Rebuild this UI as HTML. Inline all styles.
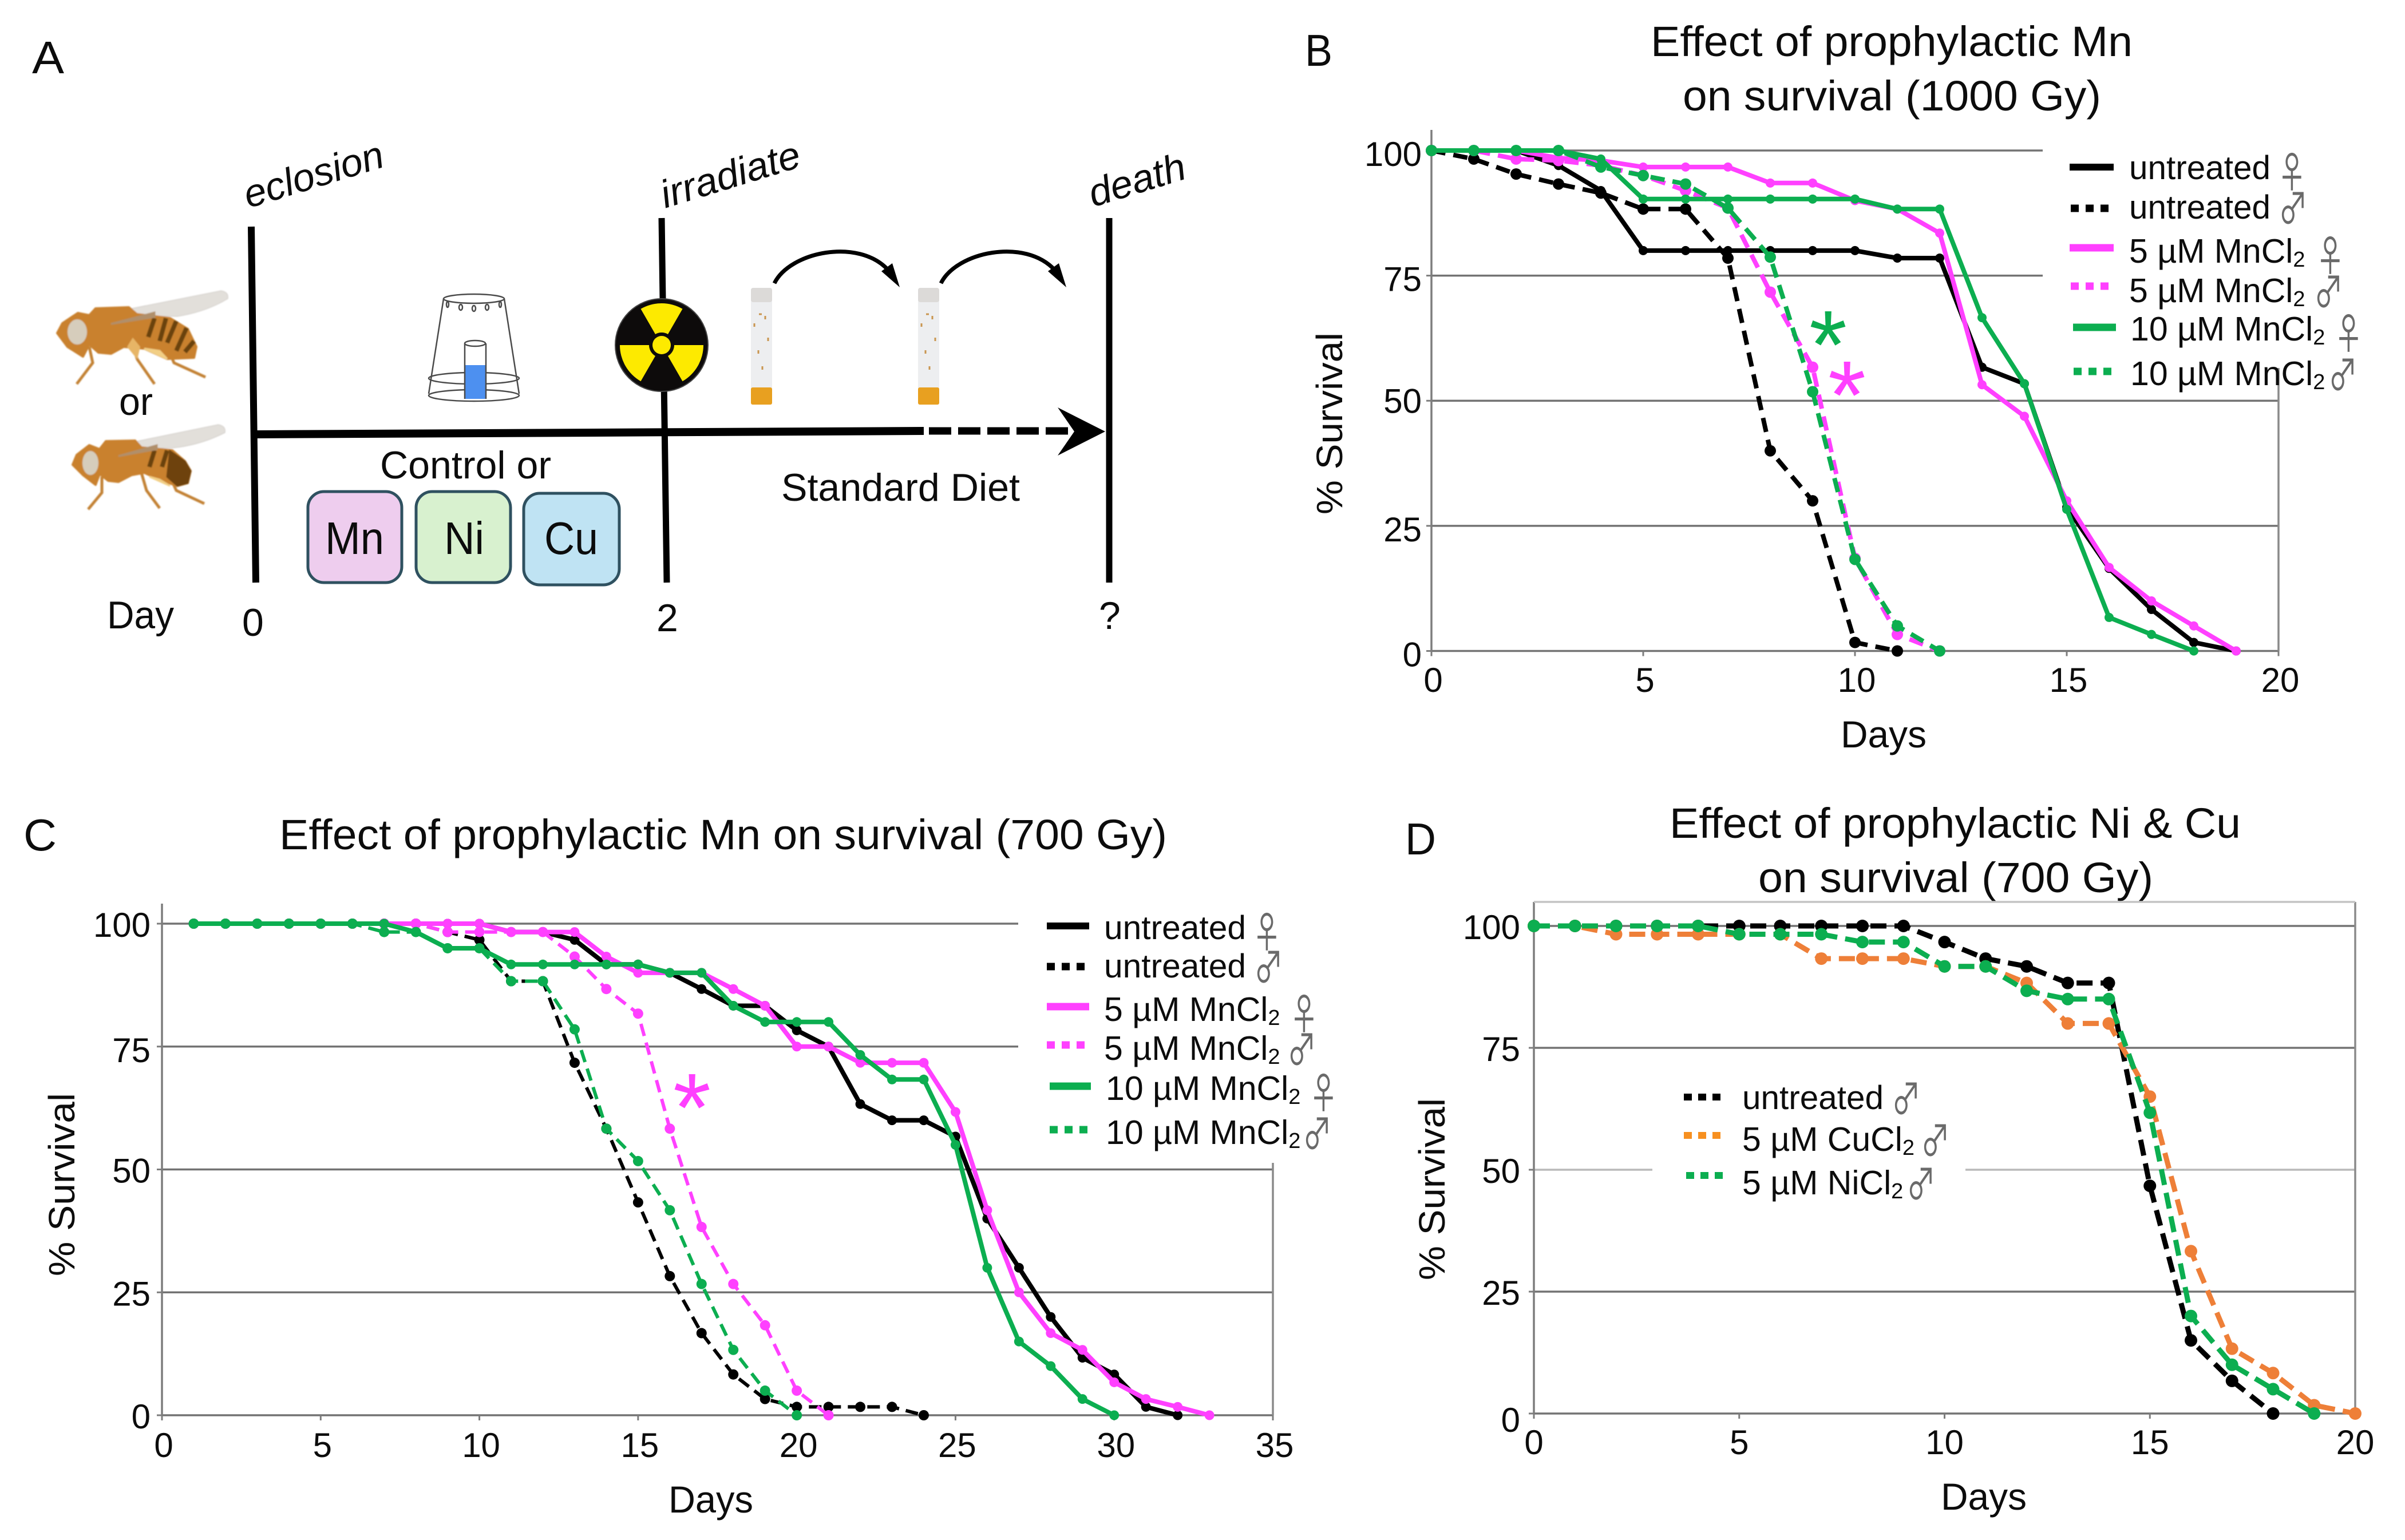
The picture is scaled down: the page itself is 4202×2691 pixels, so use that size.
<!DOCTYPE html>
<html lang="en">
<head>
<meta charset="utf-8">
<title>Prophylactic manganese survival figure</title>
<style>
html,body{margin:0;padding:0;background:#fff;width:4202px;height:2691px;overflow:hidden}
svg{display:block}
text{font-family:"Liberation Sans",Arial,sans-serif;fill:#0c0c0c}
.sym{font-family:"Noto Sans CJK JP","DejaVu Sans",sans-serif;fill:#6a6a6a}
</style>
</head>
<body>
<svg id="figure" xmlns="http://www.w3.org/2000/svg" width="4202" height="2691" viewBox="0 0 4202 2691">
<rect x="0" y="0" width="4202" height="2691" fill="#fff"/>

<defs>
  <filter id="soft" x="-5%" y="-5%" width="110%" height="110%"><feGaussianBlur stdDeviation="1"/></filter>
</defs>

<!-- PANEL A -->
<g id="panel-a">
  <text x="56" y="128" font-size="80" textLength="56" lengthAdjust="spacingAndGlyphs">A</text>

  <g filter="url(#soft)">
    <path d="M225,540 L386,508 Q400,510 398,522 Q360,545 310,553 L240,552 Z" fill="#e2dfda" stroke="#cfcbc6" stroke-width="1"/>
    <path d="M156,606 L162,634 L134,671 M232,606 L240,628 L270,671 M288,596 L304,634 L359,659" fill="none" stroke="#c38236" stroke-width="5"/>
    <path d="M109,565 L136,547 L156,551 L167,539 L225,537 L239,549 L297,556 L328,575 L343,606 L339,625 L292,627 L252,609 L216,606 L194,618 L172,616 L156,602 L145,623 L118,606 L100,582 Z" fill="#c9812f" stroke="#c9812f" stroke-width="4" stroke-linejoin="round"/>
    <path d="M252,609 L292,627 L279,613 Z" fill="#f2cf85" stroke="#f2cf85" stroke-width="3"/>
    <path d="M270,556 L259,589 M290,556 L279,596 M308,561 L292,599 M326,573 L308,613 M339,596 L323,615" stroke="#6b430f" stroke-width="8" fill="none"/>
    <path d="M194,566 L270,546 L270,554 Z" fill="#b08f6a" stroke="#b08f6a" stroke-width="3"/>
    <path d="M222,606 L232,590 L245,606 L240,628 Z" fill="#e7b566"/>
    <ellipse cx="135" cy="580" rx="17" ry="22" fill="#d6cdbc"/>
  </g>

  <text x="208" y="725" font-size="68" textLength="59" lengthAdjust="spacingAndGlyphs">or</text>

  <g filter="url(#soft)">
    <path d="M239,771 L381,742 Q395,744 393,756 Q350,778 301,783 L250,783 Z" fill="#e2dfda" stroke="#cfcbc6" stroke-width="1"/>
    <path d="M178,833 L178,861 L154,890 M247,826 L256,857 L279,888 M294,826 L308,857 L357,880" fill="none" stroke="#c38236" stroke-width="5"/>
    <path d="M134,795 L156,778 L174,785 L185,771 L236,770 L247,782 L301,787 L323,806 L333,823 L328,844 L310,849 L283,840 L252,826 L230,830 L207,842 L189,840 L174,828 L167,847 L145,830 L127,812 Z" fill="#c9812f" stroke="#c9812f" stroke-width="4" stroke-linejoin="round"/>
    <path d="M297,788 L323,806 L333,823 L328,844 L310,849 L292,833 Z" fill="#6e4210" stroke="#6e4210" stroke-width="3"/>
    <path d="M261,833 L297,849 L279,838 Z" fill="#f2cf85" stroke="#f2cf85" stroke-width="3"/>
    <path d="M270,787 L261,816 M292,787 L283,816" stroke="#6b430f" stroke-width="8" fill="none"/>
    <path d="M207,797 L274,778 L274,785 Z" fill="#b08f6a" stroke="#b08f6a" stroke-width="3"/>
    <ellipse cx="158" cy="809" rx="14" ry="21" fill="#d6cdbc"/>
  </g>

  <line x1="439" y1="396" x2="447" y2="1018" stroke="#000" stroke-width="12"/>
  <line x1="1156" y1="381" x2="1165" y2="1018" stroke="#000" stroke-width="11"/>
  <line x1="1938" y1="381" x2="1938" y2="1018" stroke="#000" stroke-width="11"/>
  <line x1="446" y1="759" x2="1614" y2="753" stroke="#000" stroke-width="14"/>
  <line x1="1623" y1="753" x2="1880" y2="753" stroke="#000" stroke-width="13" stroke-dasharray="39 12"/>
  <path d="M1848,712 L1931,754 L1848,796 L1877,754 Z" fill="#000"/>

  <text transform="translate(434 364) rotate(-17)" font-size="68" textLength="252" lengthAdjust="spacingAndGlyphs" font-style="italic">eclosion</text>
  <text transform="translate(1162 364) rotate(-17)" font-size="68" textLength="252" lengthAdjust="spacingAndGlyphs" font-style="italic">irradiate</text>
  <text transform="translate(1910 362) rotate(-17)" font-size="68" textLength="174" lengthAdjust="spacingAndGlyphs" font-style="italic">death</text>

  <g fill="none" stroke="#4a4a4a" stroke-width="2.5">
    <path d="M775,522 L749,688 M881,522 L907,688"/>
    <ellipse cx="828" cy="522" rx="53" ry="8" fill="#fff"/>
    <ellipse cx="828" cy="661" rx="79" ry="10"/>
    <ellipse cx="828" cy="691" rx="79" ry="10"/>
    <ellipse cx="782" cy="532" rx="2" ry="5"/><ellipse cx="805" cy="537" rx="3" ry="5"/><ellipse cx="828" cy="539" rx="3" ry="5"/><ellipse cx="851" cy="537" rx="3" ry="5"/><ellipse cx="874" cy="532" rx="2" ry="5"/>
    <rect x="812" y="638" width="37" height="59" fill="#4d90f0" stroke="none"/>
    <path d="M812,600 L812,697 M849,600 L849,697"/>
    <ellipse cx="830" cy="600" rx="18" ry="5" fill="#fff"/>
  </g>

  <g>
    <circle cx="1156" cy="603" r="81" fill="#0d0b0b" stroke="#444" stroke-width="2"/>
    <path d="M1145,584 L1119.5,539.8 A73,73 0 0 1 1192.5,539.8 L1167,584 A22,22 0 0 0 1145,584 Z" fill="#fdea00"/>
    <path d="M1178,603 L1229,603 A73,73 0 0 1 1192.5,666.2 L1167,622 A22,22 0 0 0 1178,603 Z" fill="#fdea00"/>
    <path d="M1134,603 L1083,603 A73,73 0 0 0 1119.5,666.2 L1145,622 A22,22 0 0 1 1134,603 Z" fill="#fdea00"/>
    <circle cx="1156" cy="603" r="16" fill="#fdea00"/>
  </g>

  <g>
    <rect x="1312" y="503" width="37" height="204" rx="4" fill="#edeef0"/>
    <rect x="1312" y="503" width="37" height="25" rx="4" fill="#dcdad8"/>
    <rect x="1312" y="677" width="37" height="30" rx="3" fill="#e8a020"/>
    <path d="M1326,549 h5 M1337,552 v6 M1318,565 v6 M1342,590 v6 M1325,612 v6 M1332,640 v6" stroke="#c9954f" stroke-width="3"/>
  </g>
  <g>
    <rect x="1604" y="503" width="37" height="204" rx="4" fill="#edeef0"/>
    <rect x="1604" y="503" width="37" height="25" rx="4" fill="#dcdad8"/>
    <rect x="1604" y="677" width="37" height="30" rx="3" fill="#e8a020"/>
    <path d="M1618,549 h5 M1629,552 v6 M1610,565 v6 M1634,590 v6 M1617,612 v6 M1624,640 v6" stroke="#c9954f" stroke-width="3"/>
  </g>

  <g>
    <path d="M1353,495 C1380,440 1500,415 1552,472" fill="none" stroke="#000" stroke-width="7"/>
    <path d="M1540,474 L1559,460 L1572,502 Z" fill="#000"/>
  </g>
  <g>
    <path d="M1644,495 C1671,440 1791,415 1843,472" fill="none" stroke="#000" stroke-width="7"/>
    <path d="M1831,474 L1850,460 L1863,502 Z" fill="#000"/>
  </g>

  <text x="664" y="836" font-size="68" textLength="299" lengthAdjust="spacingAndGlyphs">Control or</text>
  <text x="1365" y="875" font-size="68" textLength="417" lengthAdjust="spacingAndGlyphs">Standard Diet</text>

  <g>
    <rect x="538" y="859" width="164" height="159" rx="28" fill="#eecdee" stroke="#2f5160" stroke-width="5"/>
    <text x="568" y="968" font-size="80" textLength="103" lengthAdjust="spacingAndGlyphs">Mn</text>
  </g>
  <g>
    <rect x="727" y="859" width="165" height="159" rx="28" fill="#d8f1cf" stroke="#2f5160" stroke-width="5"/>
    <text x="776" y="968" font-size="80" textLength="70" lengthAdjust="spacingAndGlyphs">Ni</text>
  </g>
  <g>
    <rect x="915" y="862" width="167" height="160" rx="28" fill="#bfe3f3" stroke="#2f5160" stroke-width="5"/>
    <text x="951" y="968" font-size="80" textLength="94" lengthAdjust="spacingAndGlyphs">Cu</text>
  </g>

  <text x="187" y="1098" font-size="68" textLength="117" lengthAdjust="spacingAndGlyphs">Day</text>
  <text x="423" y="1111" font-size="68">0</text>
  <text x="1147" y="1103" font-size="68">2</text>
  <text x="1920" y="1099" font-size="68">?</text>
</g>

<!-- PANEL B static text -->
<g>
  <text x="2280" y="115" font-size="78" textLength="48" lengthAdjust="spacingAndGlyphs">B</text>
  <text x="2884" y="98" font-size="74" textLength="842" lengthAdjust="spacingAndGlyphs">Effect of prophylactic Mn</text>
  <text x="2940" y="193" font-size="74" textLength="731" lengthAdjust="spacingAndGlyphs">on survival (1000 Gy)</text>
  <text transform="translate(2345 899) rotate(-90)" font-size="64" textLength="318" lengthAdjust="spacingAndGlyphs">% Survival</text>
  <text x="3216" y="1306" font-size="66" textLength="150" lengthAdjust="spacingAndGlyphs">Days</text>
</g>

<!-- PANEL C static text -->
<g>
  <text x="41" y="1486" font-size="78" textLength="58" lengthAdjust="spacingAndGlyphs">C</text>
  <text x="488" y="1484" font-size="74" textLength="1551" lengthAdjust="spacingAndGlyphs">Effect of prophylactic Mn on survival (700 Gy)</text>
  <text transform="translate(130 2230) rotate(-90)" font-size="64" textLength="320" lengthAdjust="spacingAndGlyphs">% Survival</text>
  <text x="1168" y="2643" font-size="66" textLength="148" lengthAdjust="spacingAndGlyphs">Days</text>
</g>

<!-- PANEL D static text -->
<g>
  <text x="2455" y="1493" font-size="78" textLength="54" lengthAdjust="spacingAndGlyphs">D</text>
  <text x="2917" y="1464" font-size="74" textLength="998" lengthAdjust="spacingAndGlyphs">Effect of prophylactic Ni &amp; Cu</text>
  <text x="3072" y="1559" font-size="74" textLength="690" lengthAdjust="spacingAndGlyphs">on survival (700 Gy)</text>
  <text transform="translate(2524 2237) rotate(-90)" font-size="64" textLength="318" lengthAdjust="spacingAndGlyphs">% Survival</text>
  <text x="3391" y="2638" font-size="66" textLength="150" lengthAdjust="spacingAndGlyphs">Days</text>
</g>

<g id="charts"></g>

<!-- Significance asterisks -->
<text x="3194" y="661" font-size="170" text-anchor="middle" style="fill:#0cae50">*</text>
<text x="3227" y="749" font-size="170" text-anchor="middle" style="fill:#ff40ff">*</text>
<text x="1209" y="1994" font-size="170" text-anchor="middle" style="fill:#ff40ff">*</text>

<!-- LEGEND B -->
<g>
  <g>
    <line x1="3616" y1="292" x2="3693" y2="292" stroke="#000" stroke-width="12"/>
    <text x="3720" y="313" font-size="58" textLength="247" lengthAdjust="spacingAndGlyphs">untreated</text>
    <text class="sym" transform="translate(3979 328) scale(.82 1.2)" font-size="62">♀</text>
  </g>
  <g>
    <line x1="3618" y1="364" x2="3686" y2="364" stroke="#000" stroke-width="13" stroke-dasharray="14 12"/>
    <text x="3720" y="382" font-size="58" textLength="247" lengthAdjust="spacingAndGlyphs">untreated</text>
    <text class="sym" transform="translate(3981 391) scale(.82 1.2)" font-size="62">♂</text>
  </g>
  <g>
    <line x1="3616" y1="433" x2="3693" y2="433" stroke="#ff40ff" stroke-width="13"/>
    <text x="3720" y="459" font-size="59">5 µM MnCl<tspan font-size="38" dy="7">2</tspan></text>
    <text class="sym" transform="translate(4046 474) scale(.82 1.2)" font-size="62">♀</text>
  </g>
  <g>
    <line x1="3618" y1="500" x2="3686" y2="500" stroke="#ff40ff" stroke-width="13" stroke-dasharray="14 12"/>
    <text x="3720" y="528" font-size="59">5 µM MnCl<tspan font-size="38" dy="7">2</tspan></text>
    <text class="sym" transform="translate(4043 537) scale(.82 1.2)" font-size="62">♂</text>
  </g>
  <g>
    <line x1="3622" y1="572" x2="3697" y2="572" stroke="#0cae50" stroke-width="13"/>
    <text x="3722" y="595" font-size="59">10 µM MnCl<tspan font-size="38" dy="7">2</tspan></text>
    <text class="sym" transform="translate(4078 610) scale(.82 1.2)" font-size="62">♀</text>
  </g>
  <g>
    <line x1="3623" y1="649" x2="3690" y2="649" stroke="#0cae50" stroke-width="13" stroke-dasharray="14 12"/>
    <text x="3722" y="673" font-size="59">10 µM MnCl<tspan font-size="38" dy="7">2</tspan></text>
    <text class="sym" transform="translate(4068 682) scale(.82 1.2)" font-size="62">♂</text>
  </g>
</g>

<!-- LEGEND C -->
<g>
  <g>
    <line x1="1829" y1="1618" x2="1903" y2="1618" stroke="#000" stroke-width="12"/>
    <text x="1929" y="1641" font-size="58" textLength="248" lengthAdjust="spacingAndGlyphs">untreated</text>
    <text class="sym" transform="translate(2188 1656) scale(.82 1.2)" font-size="62">♀</text>
  </g>
  <g>
    <line x1="1829" y1="1689" x2="1897" y2="1689" stroke="#000" stroke-width="13" stroke-dasharray="14 12"/>
    <text x="1929" y="1708" font-size="58" textLength="248" lengthAdjust="spacingAndGlyphs">untreated</text>
    <text class="sym" transform="translate(2191 1717) scale(.82 1.2)" font-size="62">♂</text>
  </g>
  <g>
    <line x1="1829" y1="1759" x2="1903" y2="1759" stroke="#ff40ff" stroke-width="13"/>
    <text x="1929" y="1784" font-size="59">5 µM MnCl<tspan font-size="38" dy="7">2</tspan></text>
    <text class="sym" transform="translate(2253 1799) scale(.82 1.2)" font-size="62">♀</text>
  </g>
  <g>
    <line x1="1829" y1="1826" x2="1897" y2="1826" stroke="#ff40ff" stroke-width="13" stroke-dasharray="14 12"/>
    <text x="1929" y="1852" font-size="59">5 µM MnCl<tspan font-size="38" dy="7">2</tspan></text>
    <text class="sym" transform="translate(2249 1861) scale(.82 1.2)" font-size="62">♂</text>
  </g>
  <g>
    <line x1="1834" y1="1898" x2="1906" y2="1898" stroke="#0cae50" stroke-width="13"/>
    <text x="1932" y="1922" font-size="59">10 µM MnCl<tspan font-size="38" dy="7">2</tspan></text>
    <text class="sym" transform="translate(2287 1937) scale(.82 1.2)" font-size="62">♀</text>
  </g>
  <g>
    <line x1="1834" y1="1974" x2="1902" y2="1974" stroke="#0cae50" stroke-width="13" stroke-dasharray="14 12"/>
    <text x="1932" y="1999" font-size="59">10 µM MnCl<tspan font-size="38" dy="7">2</tspan></text>
    <text class="sym" transform="translate(2276 2008) scale(.82 1.2)" font-size="62">♂</text>
  </g>
</g>

<!-- LEGEND D -->
<g>
  <g>
    <line x1="2942" y1="1917" x2="3007" y2="1917" stroke="#000" stroke-width="12" stroke-dasharray="14 11"/>
    <text x="3044" y="1938" font-size="58" textLength="247" lengthAdjust="spacingAndGlyphs">untreated</text>
    <text class="sym" transform="translate(3305 1947) scale(.82 1.2)" font-size="62">♂</text>
  </g>
  <g>
    <line x1="2942" y1="1984" x2="3007" y2="1984" stroke="#f79020" stroke-width="12" stroke-dasharray="14 11"/>
    <text x="3044" y="2011" font-size="59">5 µM CuCl<tspan font-size="38" dy="7">2</tspan></text>
    <text class="sym" transform="translate(3356 2020) scale(.82 1.2)" font-size="62">♂</text>
  </g>
  <g>
    <line x1="2946" y1="2054" x2="3011" y2="2054" stroke="#0cae50" stroke-width="12" stroke-dasharray="14 11"/>
    <text x="3044" y="2087" font-size="59">5 µM NiCl<tspan font-size="38" dy="7">2</tspan></text>
    <text class="sym" transform="translate(3331 2096) scale(.82 1.2)" font-size="62">♂</text>
  </g>
</g>
</svg>

<script>
// ---------- Shared tick labels ----------
const survivalTicks = [0, 25, 50, 75, 100];

// ---------- Panel B data (1000 Gy) ----------
const bDays = [0,1,2,3,4,5,6,7,8,9,10,11,12,13,14,15,16,17,18,19];
const bDayTicks = [0, 5, 10, 15, 20];
const bUntreatedFemale = [100,100,100,97,92,80,80,80,80,80,80,78.5,78.5,56.7,53.4,28.7,16.5,8.3,1.7,0];
const bUntreatedMale = [100,98.3,95.3,93.3,91.5,88.3,88.3,78.5,40,30,1.7,0];
const bMn5Female = [100,100,100,98.5,98,96.7,96.7,96.7,93.5,93.5,90,88.3,83.5,53.2,46.9,30,16.7,10,5,0];
const bMn5Male = [100,100,98.3,98,97,95,92,88.5,71.7,56.7,18.5,3.3,0];
const bMn10Female = [100,100,100,100,98.3,90.3,90.3,90.3,90.3,90.3,90.3,88.3,88.3,66.6,53.4,28.3,6.7,3.3,0];
const bMn10Male = [100,100,100,100,96.7,95,93.3,88.5,78.7,51.8,18.3,5,0];

// ---------- Panel C data (700 Gy) ----------
const cDays = [1,2,3,4,5,6,7,8,9,10,11,12,13,14,15,16,17,18,19,20,21,22,23,24,25,26,27,28,29,30,31,32,33];
const cDayTicks = [0, 5, 10, 15, 20, 25, 30, 35];
const cUntreatedFemale = [100,100,100,100,100,100,100,100,100,100,98.3,98.3,96.7,91.7,91.7,90,86.7,83.3,83.3,78.3,75,63.3,60,60,56.7,40,30,20,11.7,8.3,1.7,0];
const cUntreatedMale = [100,100,100,100,100,100,100,100,98.3,96.7,88.3,88.3,71.7,58.3,43.3,28.3,16.7,8.3,3.3,1.7,1.7,1.7,1.7,0];
const cMn5Female = [100,100,100,100,100,100,100,100,100,100,98.3,98.3,98.3,93.3,90,90,90,86.7,83.3,75,75,71.7,71.7,71.7,61.7,41.7,25,16.7,13.3,6.7,3.3,1.7,0];
const cMn5Male = [100,100,100,100,100,100,100,100,98.3,98.3,98.3,98.3,93.3,86.7,81.7,58.3,38.3,26.7,18.3,5,0];
const cMn10Female = [100,100,100,100,100,100,100,98.3,95,95,91.7,91.7,91.7,91.7,91.7,90,90,83.3,80,80,80,73.3,68.3,68.3,55,30,15,10,3.3,0];
const cMn10Male = [100,100,100,100,100,100,98.3,98.3,95,95,88.3,88.3,78.5,58.3,51.7,41.7,26.7,13.3,5,0];

// ---------- Panel D data (700 Gy, Ni & Cu) ----------
const dDays = [0,1,2,3,4,5,6,7,8,9,10,11,12,13,14,15,16,17,18,19,20];
const dDayTicks = [0, 5, 10, 15, 20];
const dUntreatedMale = [100,100,100,100,100,100,100,100,100,100,96.7,93.3,91.7,88.3,88.3,46.7,15,6.7,0];
const dCuMale = [100,100,98.3,98.3,98.3,98.3,98.3,93.3,93.3,93.3,91.7,91.7,88.3,80,80,65,33.3,13.3,8.3,1.7,0];
const dNiMale = [100,100,100,100,100,98.3,98.3,98.3,96.7,96.7,91.7,91.7,86.7,85,85,61.7,20,10,5,0];

// ---------- Drawing helpers ----------
const SVG_NS = 'http://www.w3.org/2000/svg';
const chartsRoot = document.getElementById('charts');

function svgEl(tag, attrs, parent) {
  const el = document.createElementNS(SVG_NS, tag);
  for (const k in attrs) el.setAttribute(k, attrs[k]);
  parent.appendChild(el);
  return el;
}
function linearScale(d0, d1, r0, r1) {
  return function (v) { return r0 + (v - d0) / (d1 - d0) * (r1 - r0); };
}
function seriesPoints(days, values, xAxis, yAxis) {
  const pts = [];
  values.forEach(function (v, i) {
    pts.push([xAxis(days[i]), yAxis(v)]);
  });
  return pts;
}

function drawChart(cfg) {
  const xAxis = linearScale(cfg.xTicks[0], cfg.xTicks[cfg.xTicks.length - 1], cfg.left, cfg.right);
  const yAxis = linearScale(0, 100, cfg.bottom, cfg.top);
  const g = svgEl('g', {}, chartsRoot);
  
  

  // gridlines
  survivalTicks.forEach(function (t) {
    const spans = cfg.gridSpans(t);
    spans.forEach(function (s) {
      const grid = svgEl('line', {x1: s[0], x2: s[1], y1: yAxis(t), y2: yAxis(t), stroke: s[2] || '#737373', 'stroke-width': 3.5}, g);
      
      
    });
  });

  // frame
  const yLine = svgEl('line', {x1: cfg.left, x2: cfg.left, y1: cfg.axisTop, y2: cfg.bottom, stroke: '#7d7d7d', 'stroke-width': 3.5}, g);
  
  
  const rLine = svgEl('line', {x1: cfg.right, x2: cfg.right, y1: cfg.rightTop, y2: cfg.bottom, stroke: '#8a8a8a', 'stroke-width': 3.5}, g);
  
  
  if (cfg.boxTop) {
    const tLine = svgEl('line', {x1: cfg.left, x2: cfg.right, y1: cfg.axisTop, y2: cfg.axisTop, stroke: '#c4c4c4', 'stroke-width': 3.5}, g);
    
    
  }

  // y ticks + labels
  survivalTicks.forEach(function (t) {
    const tick = svgEl('line', {x1: cfg.left - 9, x2: cfg.left, y1: yAxis(t), y2: yAxis(t), stroke: '#7d7d7d', 'stroke-width': 3}, g);
    
    
    const lab = svgEl('text', {x: cfg.yLabelRight, y: yAxis(t) + cfg.yLabelDrop(t), 'font-size': 60, 'text-anchor': 'end'}, g);
    lab.textContent = String(t);
    
    
  });

  // x ticks + labels
  cfg.xTicks.forEach(function (t) {
    const tick = svgEl('line', {x1: xAxis(t), x2: xAxis(t), y1: cfg.bottom, y2: cfg.bottom + 9, stroke: '#7d7d7d', 'stroke-width': 3}, g);
    
    
    const lab = svgEl('text', {x: xAxis(t) + cfg.xLabelShift, y: cfg.xLabelY, 'font-size': 60, 'text-anchor': 'middle'}, g);
    lab.textContent = String(t);
    
    
  });

  // series
  cfg.series.forEach(function (s) {
    const sg = svgEl('g', {}, g);
    
    
    const pts = seriesPoints(cfg.days, s.values, xAxis, yAxis);
    const attrs = {
      points: pts.map(function (p) { return p[0].toFixed(1) + ',' + p[1].toFixed(1); }).join(' '),
      fill: 'none', stroke: s.color, 'stroke-width': s.dashed ? cfg.dashWidth : cfg.solidWidth,
      'stroke-linejoin': 'round'
    };
    if (s.dashed) attrs['stroke-dasharray'] = cfg.dash;
    const line = svgEl('polyline', attrs, sg);
    
    
    pts.forEach(function (p, i) {
      const dot = svgEl('circle', {cx: p[0], cy: p[1], r: s.dashed ? cfg.dashDot : cfg.solidDot, fill: s.color}, sg);
      
      
    });
  });
}

const BLACK = '#000000', MAGENTA = '#ff40ff', GREEN = '#0cae50', ORANGE = '#ee7f38';

drawChart({
  id: 'panel-b', days: bDays, xTicks: bDayTicks,
  left: 2501, right: 3981, top: 263, bottom: 1137.5, axisTop: 227, rightTop: 643,
  yLabelRight: 2484, xLabelY: 1209, xLabelShift: 3,
  yLabelDrop: function (t) { return t === 50 ? 21 : 27; },
  solidWidth: 8, dashWidth: 8, dash: '25 14', solidDot: 8, dashDot: 10,
  gridSpans: function (t) { return (t === 100 || t === 75) ? [[2501, 3569]] : [[2501, 3981]]; },
  series: [
    {key: 'untreated-female', values: bUntreatedFemale, color: BLACK, dashed: false},
    {key: 'untreated-male', values: bUntreatedMale, color: BLACK, dashed: true},
    {key: 'mn5-female', values: bMn5Female, color: MAGENTA, dashed: false},
    {key: 'mn5-male', values: bMn5Male, color: MAGENTA, dashed: true},
    {key: 'mn10-female', values: bMn10Female, color: GREEN, dashed: false},
    {key: 'mn10-male', values: bMn10Male, color: GREEN, dashed: true}
  ]
});

drawChart({
  id: 'panel-c', days: cDays, xTicks: cDayTicks,
  left: 283, right: 2224, top: 1614, bottom: 2473, axisTop: 1579, rightTop: 2032,
  yLabelRight: 263, xLabelY: 2546, xLabelShift: 3,
  yLabelDrop: function (t) { return t === 75 ? 27 : 23; },
  solidWidth: 8, dashWidth: 6, dash: '22 12', solidDot: 8.5, dashDot: 9,
  gridSpans: function (t) { return (t === 100 || t === 75) ? [[283, 1779]] : [[283, 2224]]; },
  series: [
    {key: 'untreated-female', values: cUntreatedFemale, color: BLACK, dashed: false},
    {key: 'untreated-male', values: cUntreatedMale, color: BLACK, dashed: true},
    {key: 'mn5-female', values: cMn5Female, color: MAGENTA, dashed: false},
    {key: 'mn5-male', values: cMn5Male, color: MAGENTA, dashed: true},
    {key: 'mn10-female', values: cMn10Female, color: GREEN, dashed: false},
    {key: 'mn10-male', values: cMn10Male, color: GREEN, dashed: true}
  ]
});

drawChart({
  id: 'panel-d', days: dDays, xTicks: dDayTicks,
  left: 2680, right: 4115, top: 1618, bottom: 2470, axisTop: 1576, rightTop: 1576, boxTop: true,
  yLabelRight: 2656, xLabelY: 2541, xLabelShift: 0,
  yLabelDrop: function (t) { return t === 0 ? 32 : 23; },
  solidWidth: 7, dashWidth: 9, dash: '28 14', solidDot: 11, dashDot: 11,
  gridSpans: function (t) { return t === 50 ? [[2680, 2887, '#b9b9b9'], [3434, 4115, '#b9b9b9']] : [[2680, 4115]]; },
  series: [
    {key: 'untreated-male', values: dUntreatedMale, color: BLACK, dashed: true},
    {key: 'cu-male', values: dCuMale, color: ORANGE, dashed: true},
    {key: 'ni-male', values: dNiMale, color: GREEN, dashed: true}
  ]
});
</script>
</body>
</html>
